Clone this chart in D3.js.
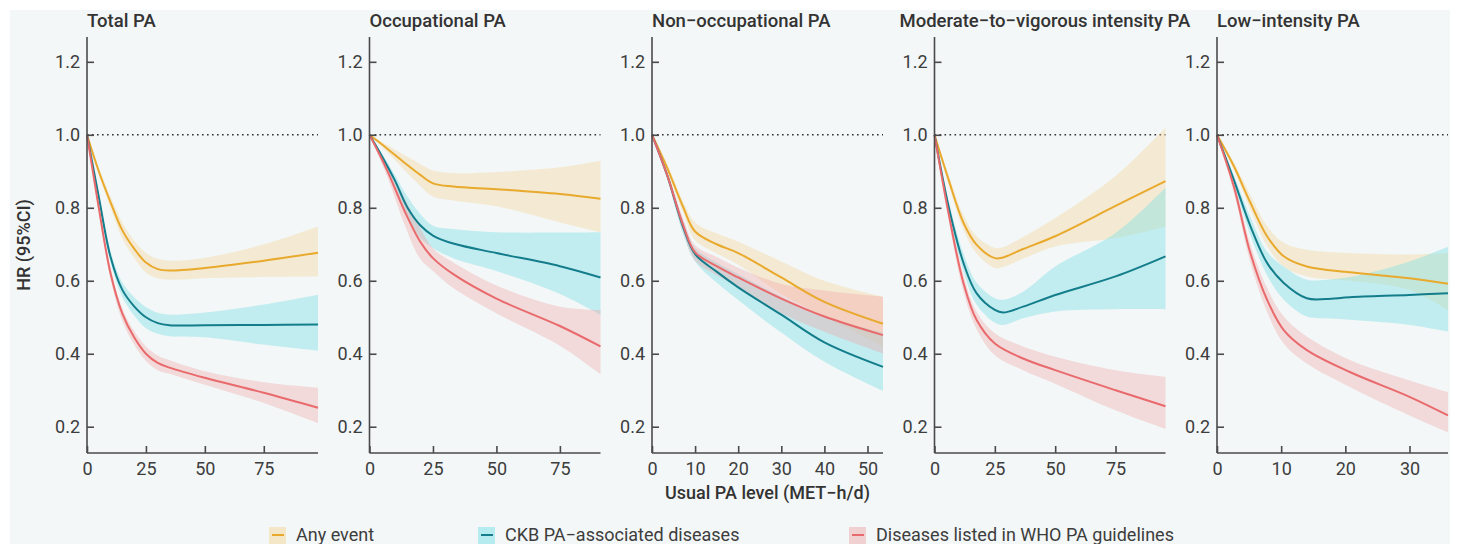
<!DOCTYPE html>
<html lang="en">
<head>
<meta charset="UTF-8">
<title>PA level and HR</title>
<script src="https://cdn.jsdelivr.net/npm/d3@7/dist/d3.min.js"></script>
<style>
  body { margin: 0; background: #fff; }
  svg { display: block; font-family: Roboto, "Noto Sans", sans-serif; }
</style>
</head>
<body>
<div id="chart"></div>
<script>
// panel labels and axes
const panelTitles = ["Total PA", "Occupational PA", "Non\u2212occupational PA",
  "Moderate\u2212to\u2212vigorous intensity PA", "Low\u2212intensity PA"];
const xMax = [98, 91, 53.6, 95.7, 36];
const xTicks = [[0, 25, 50, 75], [0, 25, 50, 75], [0, 10, 20, 30, 40, 50], [0, 25, 50, 75], [0, 10, 20, 30]];
const yTicks = [0.2, 0.4, 0.6, 0.8, 1.0, 1.2];
const seriesNames = ["Any event", "CKB PA\u2212associated diseases", "Diseases listed in WHO PA guidelines"];

// each row: [PA level, HR, lower CI, upper CI]
const totalAny = [[0,1,1,1],[5,0.90,0.89,0.91],[10,0.815,0.80,0.83],[15,0.738,0.715,0.76],[20,0.688,0.663,0.71],
  [25,0.65,0.622,0.676],[30,0.632,0.607,0.66],[35,0.628,0.603,0.655],[50,0.635,0.607,0.663],[75,0.655,0.61,0.70],[98,0.677,0.612,0.749]];
const totalCkb = [[0,1,1,1],[5,0.83,0.82,0.84],[10,0.665,0.65,0.68],[15,0.575,0.555,0.595],[20,0.53,0.505,0.555],
  [25,0.5,0.47,0.528],[30,0.484,0.455,0.512],[35,0.478,0.448,0.507],[50,0.478,0.445,0.513],[75,0.479,0.425,0.535],[98,0.48,0.408,0.562]];
const totalWho = [[0,1,1,1],[5,0.80,0.79,0.81],[10,0.62,0.605,0.635],[15,0.51,0.49,0.525],[20,0.445,0.425,0.462],
  [25,0.40,0.38,0.42],[30,0.375,0.355,0.395],[35,0.362,0.345,0.382],[50,0.334,0.315,0.352],[75,0.293,0.265,0.322],[98,0.252,0.21,0.307]];

const occAny = [[0,1,1,1],[7,0.962,0.952,0.972],[13.5,0.925,0.905,0.945],[20,0.89,0.86,0.92],[25,0.867,0.831,0.902],
  [33,0.858,0.82,0.895],[50,0.851,0.804,0.898],[75,0.838,0.76,0.911],[91,0.825,0.733,0.929]];
const occCkb = [[0,1,1,1],[5,0.94,0.932,0.948],[10,0.875,0.86,0.89],[15,0.80,0.775,0.83],[20,0.752,0.718,0.783],
  [25,0.724,0.69,0.751],[33,0.702,0.662,0.742],[50,0.676,0.627,0.733],[75,0.64,0.564,0.732],[91,0.609,0.507,0.733]];
const occWho = [[0,1,1,1],[7,0.902,0.885,0.915],[13.5,0.796,0.76,0.83],[20,0.707,0.66,0.745],[25,0.662,0.627,0.689],
  [33,0.618,0.58,0.65],[50,0.551,0.511,0.587],[75,0.476,0.422,0.529],[91,0.42,0.344,0.52]];

const nonAny = [[0,1,1,1],[3.5,0.91,0.90,0.92],[7.3,0.80,0.784,0.815],[10,0.735,0.711,0.76],[15,0.70,0.675,0.73],
  [20,0.676,0.644,0.707],[30,0.609,0.564,0.653],[40,0.542,0.502,0.60],[53.6,0.482,0.42,0.556]];
const nonCkb = [[0,1,1,1],[3.5,0.89,0.88,0.90],[7.3,0.745,0.725,0.762],[10,0.673,0.653,0.69],[15,0.625,0.595,0.65],
  [20,0.582,0.547,0.618],[30,0.507,0.458,0.556],[40,0.431,0.378,0.502],[53.6,0.364,0.298,0.458]];
const nonWho = [[0,1,1,1],[3.5,0.89,0.88,0.90],[7.3,0.75,0.73,0.768],[10,0.678,0.655,0.697],[15,0.64,0.615,0.665],
  [20,0.609,0.582,0.636],[30,0.551,0.511,0.591],[40,0.502,0.46,0.573],[53.6,0.451,0.40,0.556]];

const mvAny = [[0,1,1,1],[5.8,0.878,0.865,0.89],[12,0.759,0.74,0.78],[17.4,0.699,0.675,0.722],[25,0.662,0.635,0.69],
  [28.4,0.664,0.638,0.692],[36.7,0.687,0.66,0.72],[50,0.722,0.694,0.772],[75,0.805,0.717,0.887],[95.7,0.873,0.748,1.02]];
const mvCkb = [[0,1,1,1],[5.8,0.805,0.79,0.82],[12,0.649,0.625,0.675],[17.4,0.566,0.535,0.595],[25,0.52,0.485,0.552],
  [28.4,0.513,0.479,0.548],[36.7,0.529,0.497,0.57],[50,0.561,0.516,0.639],[75,0.612,0.522,0.731],[95.7,0.667,0.522,0.855]];
const mvWho = [[0,1,1,1],[5.8,0.786,0.77,0.80],[12,0.594,0.57,0.615],[17.4,0.493,0.468,0.515],[25,0.428,0.396,0.456],
  [36.7,0.387,0.355,0.42],[50,0.355,0.318,0.392],[75,0.30,0.245,0.355],[95.7,0.256,0.194,0.337]];

const lowAny = [[0,1,1,1],[2.6,0.915,0.905,0.925],[5.2,0.814,0.795,0.835],[7.8,0.722,0.695,0.75],[10.4,0.667,0.639,0.704],
  [14,0.639,0.612,0.685],[20.7,0.623,0.60,0.676],[30,0.607,0.575,0.672],[36,0.592,0.52,0.676]];
const lowCkb = [[0,1,1,1],[2.6,0.878,0.865,0.89],[5.2,0.75,0.725,0.775],[7.8,0.649,0.615,0.68],[10.4,0.594,0.548,0.639],
  [14,0.552,0.502,0.603],[17,0.55,0.497,0.603],[20.7,0.555,0.493,0.61],[30,0.561,0.479,0.653],[36,0.566,0.461,0.693]];
const lowWho = [[0,1,1,1],[2.6,0.86,0.845,0.875],[5.2,0.676,0.65,0.70],[7.8,0.548,0.515,0.58],[10.4,0.465,0.428,0.502],
  [14,0.41,0.373,0.447],[20.7,0.35,0.309,0.383],[30,0.282,0.231,0.327],[36,0.231,0.185,0.295]];

const panelData = [
  [totalAny, totalCkb, totalWho],
  [occAny, occCkb, occWho],
  [nonAny, nonCkb, nonWho],
  [mvAny, mvCkb, mvWho],
  [lowAny, lowCkb, lowWho]
];

// look
const width = 1458, height = 544;
const lineColors = ["#e8a92c", "#137d8b", "#e96a6c"];
const bandColors = ["#f5d28c", "#7fe0e8", "#f0a0a3"];
const bandOpacity = [0.33, 0.42, 0.35];
const axisColor = "#4a4a4a", textColor = "#3d3d3d";
const panelLeft0 = 87, panelStep = 282.5, panelW = 231;
const plotTop = 37, plotBottom = 453;
const titleShift = [0, 0, 0, -35, 0];

const svg = d3.select("#chart").append("svg")
  .attr("width", width)
  .attr("height", height);

// light background card
svg.append("rect")
  .attr("x", 10).attr("y", 10)
  .attr("width", 1440).attr("height", height - 10)
  .attr("fill", "#f3f7f7");

const y = d3.scaleLinear().domain([0.128, 1.268]).range([plotBottom, plotTop]);

panelData.forEach((series, i) => {
  const left = panelLeft0 + i * panelStep;
  const x = d3.scaleLinear().domain([0, xMax[i]]).range([left, left + panelW]);
  const g = svg.append("g");

  // reference line at HR = 1
  g.append("line")
    .attr("x1", x(0)).attr("x2", x(xMax[i]))
    .attr("y1", y(1)).attr("y2", y(1))
    .attr("stroke", "#333")
    .attr("stroke-width", 1.6)
    .attr("stroke-dasharray", "1.6,3.4");

  const area = d3.area()
    .x(d => x(d[0]))
    .y0(d => y(d[2]))
    .y1(d => y(d[3]))
    .curve(d3.curveCatmullRom.alpha(0.5));
  const line = d3.line()
    .x(d => x(d[0]))
    .y(d => y(d[1]))
    .curve(d3.curveCatmullRom.alpha(0.5));

  series.forEach((s, k) => {
    g.append("path")
      .attr("d", area(s))
      .attr("fill", bandColors[k])
      .attr("fill-opacity", bandOpacity[k]);
  });
  series.forEach((s, k) => {
    g.append("path")
      .attr("d", line(s))
      .attr("fill", "none")
      .attr("stroke", lineColors[k])
      .attr("stroke-width", 2);
  });

  // axes (ticks point inward)
  const yAxis = d3.axisLeft(y).tickValues(yTicks).tickFormat(d3.format(".1f")).tickSizeInner(-7).tickSizeOuter(0).tickPadding(7);
  const yg = g.append("g").attr("transform", `translate(${left},0)`).call(yAxis);
  const xAxis = d3.axisBottom(x).tickValues(xTicks[i]).tickSizeInner(-7).tickSizeOuter(0).tickPadding(9);
  const xg = g.append("g").attr("transform", `translate(0,${plotBottom})`).call(xAxis);

  [yg, xg].forEach(a => {
    a.select(".domain").attr("stroke", axisColor).attr("stroke-width", 1.6);
    a.selectAll(".tick line").attr("stroke", axisColor).attr("stroke-width", 1.6);
    a.selectAll(".tick text").attr("fill", textColor).style("font-size", "18px").style("font-family", "Roboto, sans-serif");
  });
  // y axis line runs to top of panel
  yg.select(".domain").attr("d", `M0,${plotTop}V${plotBottom}`);
  xg.select(".domain").attr("d", `M${left},0H${left + panelW}`);

  g.append("text")
    .attr("x", left + titleShift[i])
    .attr("y", 27)
    .attr("fill", "#333")
    .style("font-size", "18.5px")
    .style("font-weight", 500)
    .text(panelTitles[i]);
});

// axis titles
svg.append("text")
  .attr("transform", `translate(30,${(plotTop + plotBottom) / 2}) rotate(-90)`)
  .attr("text-anchor", "middle")
  .attr("fill", "#333")
  .style("font-size", "18px")
  .style("font-weight", 500)
  .text("HR (95%CI)");

svg.append("text")
  .attr("x", panelLeft0 + 2 * panelStep + panelW / 2)
  .attr("y", 499)
  .attr("text-anchor", "middle")
  .attr("fill", "#333")
  .style("font-size", "18px")
  .style("font-weight", 500)
  .text("Usual PA level (MET\u2212h/d)");

// legend
const legendX = [269, 478, 849];
const legend = svg.append("g");
seriesNames.forEach((name, k) => {
  const lg = legend.append("g").attr("transform", `translate(${legendX[k]},527)`);
  lg.append("rect")
    .attr("width", 17).attr("height", 20)
    .attr("fill", bandColors[k]).attr("fill-opacity", bandOpacity[k] + 0.1);
  lg.append("line")
    .attr("x1", 3).attr("x2", 15).attr("y1", 8).attr("y2", 8)
    .attr("stroke", lineColors[k]).attr("stroke-width", 2);
  lg.append("text")
    .attr("x", 27).attr("y", 14)
    .attr("fill", textColor)
    .style("font-size", "18px")
    .text(name);
});
</script>
</body>
</html>
